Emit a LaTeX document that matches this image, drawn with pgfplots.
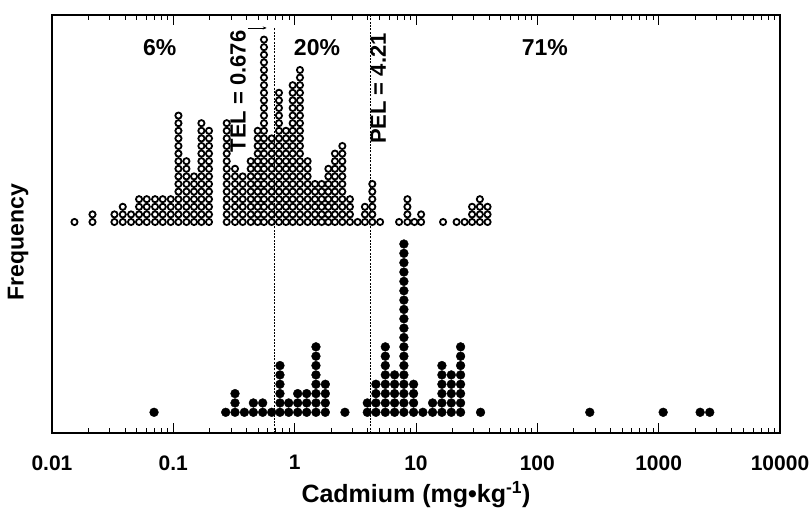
\documentclass[border=0pt]{standalone}
\usepackage{fontspec}
\setmainfont{Liberation Sans}
\usepackage{pgfplots}
\pgfplotsset{compat=1.18}
\usetikzlibrary{arrows.meta}

\begin{document}
\begin{tikzpicture}
\path[use as bounding box] (-52bp,-77bp) rectangle (757bp,433bp);
\begin{axis}[width=728bp,height=418bp,scale only axis,
xmode=log,xmin=0.01,xmax=10000,ymin=0,ymax=418,
ytick=\empty,
xtick={0.01,0.1,1,10,100,1000,10000},
xticklabels={0.01,0.1,1,10,100,1000,10000},
tick align=inside,major tick length=10bp,minor tick length=5bp,
every tick/.style={black,line width=0.9bp},
axis line style={line width=1.3bp},
/pgf/number format/assume math mode=true,
xticklabel style={font=\fontsize{21bp}{24bp}\selectfont\bfseries,yshift=-19bp},
xlabel={Cadmium (mg•kg\textsuperscript{-1})},
xlabel style={font=\fontsize{25bp}{29bp}\selectfont\bfseries,at={(axis description cs:0.5,0)},anchor=center,yshift=-62bp},
ylabel={Frequency},
ylabel style={font=\fontsize{23bp}{27bp}\selectfont\bfseries,at={(axis description cs:-0.0467,0.457)},anchor=center},
clip=false]

% thresholds
\draw[line width=0.8bp,dash pattern=on 2bp off 1.3bp] (axis cs:0.676,0) -- (axis cs:0.676,405);
\draw[line width=0.8bp,dash pattern=on 2bp off 1.3bp] (axis cs:4.21,0) -- (axis cs:4.21,418);
\draw[line width=0.9bp,-{Stealth[length=4bp,width=3bp]}] (rel axis cs:0.2692,0.969) -- (rel axis cs:0.2950,0.969);
\node[font=\fontsize{22bp}{26bp}\selectfont\bfseries,rotate=90] at (rel axis cs:0.2555,0.817) {TEL = 0.676};
\node[font=\fontsize{22bp}{26bp}\selectfont\bfseries,rotate=90] at (rel axis cs:0.448,0.824) {PEL = 4.21};
\node[font=\fontsize{23bp}{27bp}\selectfont\bfseries] at (rel axis cs:0.148,0.923) {6\%};
\node[font=\fontsize{23bp}{27bp}\selectfont\bfseries] at (rel axis cs:0.364,0.923) {20\%};
\node[font=\fontsize{23bp}{27bp}\selectfont\bfseries] at (rel axis cs:0.677,0.923) {71\%};

% open circles: (value, position in column)
\addplot[only marks,mark=*,mark size=3.1bp,draw=black,fill=white,line width=1.8bp,
y filter/.expression={211+7.6*(y-1)}] coordinates {
(0.01532,1)
(0.02157,1) (0.02157,2)
(0.03272,1) (0.03272,2)
(0.03831,1) (0.03831,2) (0.03831,3)
(0.04483,1) (0.04483,2)
(0.05218,1) (0.05218,2) (0.05218,3) (0.05218,4)
(0.06037,1) (0.06037,2) (0.06037,3) (0.06037,4)
(0.07069,1) (0.07069,2) (0.07069,3) (0.07069,4)
(0.08178,1) (0.08178,2) (0.08178,3) (0.08178,4)
(0.09519,1) (0.09519,2) (0.09519,3) (0.09519,4)
(0.1102,1) (0.1102,2) (0.1102,3) (0.1102,4) (0.1102,5) (0.1102,6) (0.1102,7) (0.1102,8) (0.1102,9) (0.1102,10) (0.1102,11) (0.1102,12) (0.1102,13) (0.1102,14) (0.1102,15)
(0.1282,1) (0.1282,2) (0.1282,3) (0.1282,4) (0.1282,5) (0.1282,6) (0.1282,7) (0.1282,8) (0.1282,9)
(0.1481,1) (0.1481,2) (0.1481,3) (0.1481,4) (0.1481,5) (0.1481,6) (0.1481,7)
(0.1704,1) (0.1704,2) (0.1704,3) (0.1704,4) (0.1704,5) (0.1704,6) (0.1704,7) (0.1704,8) (0.1704,9) (0.1704,10) (0.1704,11) (0.1704,12) (0.1704,13) (0.1704,14)
(0.1968,1) (0.1968,2) (0.1968,3) (0.1968,4) (0.1968,5) (0.1968,6) (0.1968,7) (0.1968,8) (0.1968,9) (0.1968,10) (0.1968,11) (0.1968,12) (0.1968,13)
(0.2754,1) (0.2754,2) (0.2754,3) (0.2754,4) (0.2754,5) (0.2754,6) (0.2754,7) (0.2754,8) (0.2754,9) (0.2754,10) (0.2754,11) (0.2754,12) (0.2754,13) (0.2754,14)
(0.3224,1) (0.3224,2) (0.3224,3) (0.3224,4) (0.3224,5) (0.3224,6) (0.3224,7) (0.3224,8)
(0.3730,1) (0.3730,2) (0.3730,3) (0.3730,4) (0.3730,5) (0.3730,6) (0.3730,7)
(0.4341,1) (0.4341,2) (0.4341,3) (0.4341,4) (0.4341,5) (0.4341,6) (0.4341,7) (0.4341,8) (0.4341,9)
(0.4957,1) (0.4957,2) (0.4957,3) (0.4957,4) (0.4957,5) (0.4957,6) (0.4957,7) (0.4957,8) (0.4957,9) (0.4957,10) (0.4957,11) (0.4957,12) (0.4957,13)
(0.5586,1) (0.5586,2) (0.5586,3) (0.5586,4) (0.5586,5) (0.5586,6) (0.5586,7) (0.5586,8) (0.5586,9) (0.5586,10) (0.5586,11) (0.5586,12) (0.5586,13) (0.5586,14) (0.5586,15) (0.5586,16) (0.5586,17) (0.5586,18) (0.5586,19) (0.5586,20) (0.5586,21) (0.5586,22) (0.5586,23) (0.5586,24) (0.5586,25)
(0.6466,1) (0.6466,2) (0.6466,3) (0.6466,4) (0.6466,5) (0.6466,6) (0.6466,7) (0.6466,8) (0.6466,9) (0.6466,10) (0.6466,11) (0.6466,12)
(0.7425,1) (0.7425,2) (0.7425,3) (0.7425,4) (0.7425,5) (0.7425,6) (0.7425,7) (0.7425,8) (0.7425,9) (0.7425,10) (0.7425,11) (0.7425,12) (0.7425,13) (0.7425,14) (0.7425,15) (0.7425,16) (0.7425,17) (0.7425,18)
(0.8479,1) (0.8479,2) (0.8479,3) (0.8479,4) (0.8479,5) (0.8479,6) (0.8479,7) (0.8479,8) (0.8479,9) (0.8479,10) (0.8479,11) (0.8479,12) (0.8479,13)
(0.9628,1) (0.9628,2) (0.9628,3) (0.9628,4) (0.9628,5) (0.9628,6) (0.9628,7) (0.9628,8) (0.9628,9) (0.9628,10) (0.9628,11) (0.9628,12) (0.9628,13) (0.9628,14) (0.9628,15) (0.9628,16) (0.9628,17) (0.9628,18) (0.9628,19)
(1.106,1) (1.106,2) (1.106,3) (1.106,4) (1.106,5) (1.106,6) (1.106,7) (1.106,8) (1.106,9) (1.106,10) (1.106,11) (1.106,12) (1.106,13) (1.106,14) (1.106,15) (1.106,16) (1.106,17) (1.106,18) (1.106,19) (1.106,20) (1.106,21)
(1.279,1) (1.279,2) (1.279,3) (1.279,4) (1.279,5) (1.279,6) (1.279,7) (1.279,8) (1.279,9)
(1.470,1) (1.470,2) (1.470,3) (1.470,4) (1.470,5) (1.470,6)
(1.669,1) (1.669,2) (1.669,3) (1.669,4) (1.669,5) (1.669,6)
(1.895,1) (1.895,2) (1.895,3) (1.895,4) (1.895,5) (1.895,6) (1.895,7) (1.895,8)
(2.148,1) (2.148,2) (2.148,3) (2.148,4) (2.148,5) (2.148,6) (2.148,7) (2.148,8) (2.148,9) (2.148,10)
(2.471,1) (2.471,2) (2.471,3) (2.471,4) (2.471,5) (2.471,6) (2.471,7) (2.471,8) (2.471,9) (2.471,10) (2.471,11)
(2.855,1) (2.855,2) (2.855,3) (2.855,4)
(3.303,1)
(3.794,1) (3.794,2) (3.794,3)
(4.365,1) (4.365,2) (4.365,3) (4.365,4) (4.365,5) (4.365,6)
(5.061,1)
(7.256,1)
(8.496,1) (8.496,2) (8.496,3) (8.496,4)
(9.701,1)
(11.02,1) (11.02,2)
(16.72,1)
(21.60,1)
(25.14,1)
(28.98,1) (28.98,2) (28.98,3)
(33.61,1) (33.61,2) (33.61,3) (33.61,4)
(38.89,1) (38.89,2) (38.89,3)
};

% filled dots: (value, position in column)
\addplot[only marks,mark=*,mark size=4.4bp,black,
y filter/.expression={20.7+9.35*(y-1)}] coordinates {
(0.06935,1)
(0.2702,1)
(0.3224,1) (0.3224,2) (0.3224,3)
(0.3852,1)
(0.4568,1) (0.4568,2)
(0.5450,1) (0.5450,2)
(0.6466,1)
(0.7566,1) (0.7566,2) (0.7566,3) (0.7566,4) (0.7566,5) (0.7566,6)
(0.8923,1) (0.8923,2)
(1.059,1) (1.059,2) (1.059,3)
(1.256,1) (1.256,2) (1.256,3)
(1.498,1) (1.498,2) (1.498,3) (1.498,4) (1.498,5) (1.498,6) (1.498,7) (1.498,8)
(1.790,1) (1.790,2) (1.790,3) (1.790,4)
(2.596,1)
(3.970,1) (3.970,2)
(4.673,1) (4.673,2) (4.673,3) (4.673,4)
(5.586,1) (5.586,2) (5.586,3) (5.586,4) (5.586,5) (5.586,6) (5.586,7) (5.586,8)
(6.663,1) (6.663,2) (6.663,3) (6.663,4) (6.663,5)
(7.949,1) (7.949,2) (7.949,3) (7.949,4) (7.949,5) (7.949,6) (7.949,7) (7.949,8) (7.949,9) (7.949,10) (7.949,11) (7.949,12) (7.949,13) (7.949,14) (7.949,15) (7.949,16) (7.949,17) (7.949,18) (7.949,19)
(9.555,1) (9.555,2) (9.555,3) (9.555,4)
(11.40,1)
(13.70,1) (13.70,2)
(16.35,1) (16.35,2) (16.35,3) (16.35,4) (16.35,5) (16.35,6)
(19.54,1) (19.54,2) (19.54,3) (19.54,4) (19.54,5)
(23.31,1) (23.31,2) (23.31,3) (23.31,4) (23.31,5) (23.31,6) (23.31,7) (23.31,8)
(34.05,1)
(270.7,1)
(1089,1)
(2197,1)
(2636,1)
};
\end{axis}
\end{tikzpicture}
\end{document}
